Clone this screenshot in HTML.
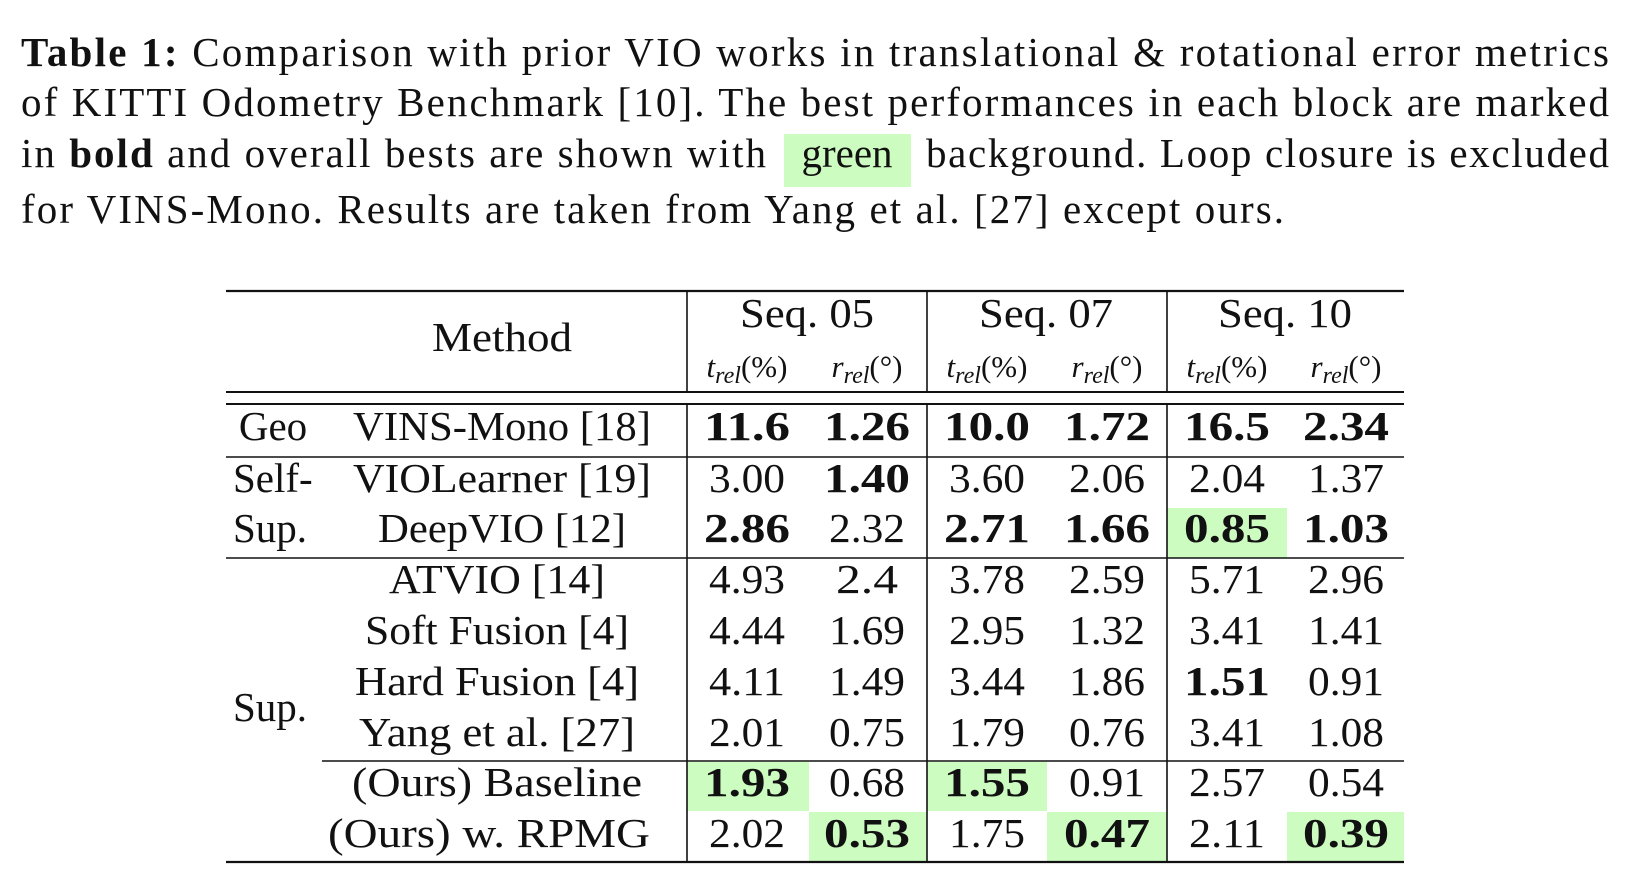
<!DOCTYPE html>
<html><head><meta charset="utf-8"><style>
html,body{margin:0;padding:0;background:#fff;width:1649px;height:885px;overflow:hidden}
svg{display:block}
text{font-family:"Liberation Serif","DejaVu Serif",serif;fill:#111}
</style></head><body>
<svg id="s" width="1649" height="885" viewBox="0 0 1649 885">
<g font-size="41">
<text x="21" y="66" textLength="1588" lengthAdjust="spacing"><tspan font-weight="bold">Table 1:</tspan> Comparison with prior VIO works in translational &amp; rotational error metrics</text>
<text x="21" y="116" textLength="1588" lengthAdjust="spacing">of KITTI Odometry Benchmark [10]. The best performances in each block are marked</text>
<rect x="784" y="134" width="127" height="53" fill="#ccfcc0"/>
<text x="21" y="167" textLength="745" lengthAdjust="spacing">in <tspan font-weight="bold">bold</tspan> and overall bests are shown with</text>
<text x="847" y="167" text-anchor="middle">green</text>
<text x="926" y="167" textLength="683" lengthAdjust="spacing">background. Loop closure is excluded</text>
<text x="21" y="223" textLength="1263" lengthAdjust="spacing">for VINS-Mono. Results are taken from Yang et al. [27] except ours.</text>
</g>
<g id="tbl"></g>
</svg>
<script>
const methods=["VINS-Mono [18]","VIOLearner [19]","DeepVIO [12]","ATVIO [14]","Soft Fusion [4]","Hard Fusion [4]","Yang et al. [27]","(Ours) Baseline","(Ours) w. RPMG"];
const values=[
["11.6","1.26","10.0","1.72","16.5","2.34"],
["3.00","1.40","3.60","2.06","2.04","1.37"],
["2.86","2.32","2.71","1.66","0.85","1.03"],
["4.93","2.4","3.78","2.59","5.71","2.96"],
["4.44","1.69","2.95","1.32","3.41","1.41"],
["4.11","1.49","3.44","1.86","1.51","0.91"],
["2.01","0.75","1.79","0.76","3.41","1.08"],
["1.93","0.68","1.55","0.91","2.57","0.54"],
["2.02","0.53","1.75","0.47","2.11","0.39"]];
const bold=[[1,1,1,1,1,1],[0,1,0,0,0,0],[1,0,1,1,1,1],[0,0,0,0,0,0],[0,0,0,0,0,0],[0,0,0,0,1,0],[0,0,0,0,0,0],[1,0,1,0,0,0],[0,1,0,1,0,1]];
const green=[[0,0,0,0,0,0],[0,0,0,0,0,0],[0,0,0,0,1,0],[0,0,0,0,0,0],[0,0,0,0,0,0],[0,0,0,0,0,0],[0,0,0,0,0,0],[1,0,1,0,0,0],[0,1,0,1,0,1]];
const seqs=["Seq. 05","Seq. 07","Seq. 10"];
const NS="http://www.w3.org/2000/svg";
const g=document.getElementById('tbl');
function mk(tag,attrs){const e=document.createElementNS(NS,tag);for(const k in attrs)e.setAttribute(k,attrs[k]);g.appendChild(e);return e;}
const colX=[747,867,987,1107,1227,1346];
const colL=[687,809,927,1047,1167,1287];
const colR=[809,927,1047,1167,1287,1404];
const rowY=[427,479,529,580,631,682,733,783,834];
const rowTop=[404,457,507,558,607,658,709,761,811];
const rowBot=[457,507,558,607,658,709,761,811,862];
for(let r=0;r<values.length;r++)for(let c=0;c<6;c++)if(green[r][c]){
 const e=mk('rect',{x:colL[c],y:rowTop[r]+1,width:colR[c]-colL[c],height:rowBot[r]-rowTop[r]-1,fill:'#ccfcc0'});
 
 
}
function hl(x1,x2,y,w,name){const e=mk('line',{x1:x1,x2:x2,y1:y,y2:y,stroke:'#111','stroke-width':w});
 
 }
hl(226,1404,291,2.2,'top-rule');hl(226,1404,392,2,'header-rule');hl(226,1404,404,2,'header-rule-2');
hl(226,1404,457,1.6,'geo-rule');hl(226,1404,558,1.6,'selfsup-rule');hl(322,1404,761,1.6,'ours-rule');hl(226,1404,862,2.2,'bottom-rule');
[687,927,1167].forEach(x=>{[[291,392],[404,862]].forEach(s=>{const e=mk('line',{x1:x,x2:x,y1:s[0],y2:s[1],stroke:'#111','stroke-width':1.6});
 
 });});
function tx(x,y,str,anchor,b,name,len){const a={x:x,y:y,'font-size':41,'text-anchor':anchor,'font-weight':b?'bold':'normal'};
 if(len){a.textLength=len;a.lengthAdjust='spacingAndGlyphs';}
 const e=mk('text',a);e.textContent=str;
 
 return e;}
tx(502,351,"Method",'middle',0,'method-header',140);
const seqC=[807,1046,1285];
seqs.forEach((s,i)=>{tx(seqC[i],327,s,'middle',0,'seq-header',134);});
for(let c=0;c<6;c++){
 const e=mk('text',{x:colX[c],y:377,'text-anchor':'middle','font-size':31});
 e.innerHTML=(c%2==0?'<tspan font-style="italic">t</tspan><tspan font-style="italic" font-size="24" dy="6">rel</tspan><tspan dy="-6">(%)</tspan>':'<tspan font-style="italic">r</tspan><tspan font-style="italic" font-size="24" dy="6">rel</tspan><tspan dy="-6">(°)</tspan>');
 
 
}
tx(273,440,"Geo",'middle',0,'group-geo');
tx(233,492,"Self-",'start',0,'group-selfsup');
tx(233,542,"Sup.",'start',0,'group-selfsup-2');
tx(233,721,"Sup.",'start',0,'group-sup');
const mLen=[298,298,248,216,264,284,276,290,322];
for(let r=0;r<methods.length;r++){
 tx(r<3?502:(r==8?489:497),rowY[r]+13,methods[r],'middle',0,'method-label',mLen[r]);
 for(let c=0;c<6;c++) tx(colX[c],rowY[r]+13,values[r][c],'middle',bold[r][c],'value-cell',values[r][c].length==3?62:(bold[r][c]?86:76));
}
</script>
</body></html>
